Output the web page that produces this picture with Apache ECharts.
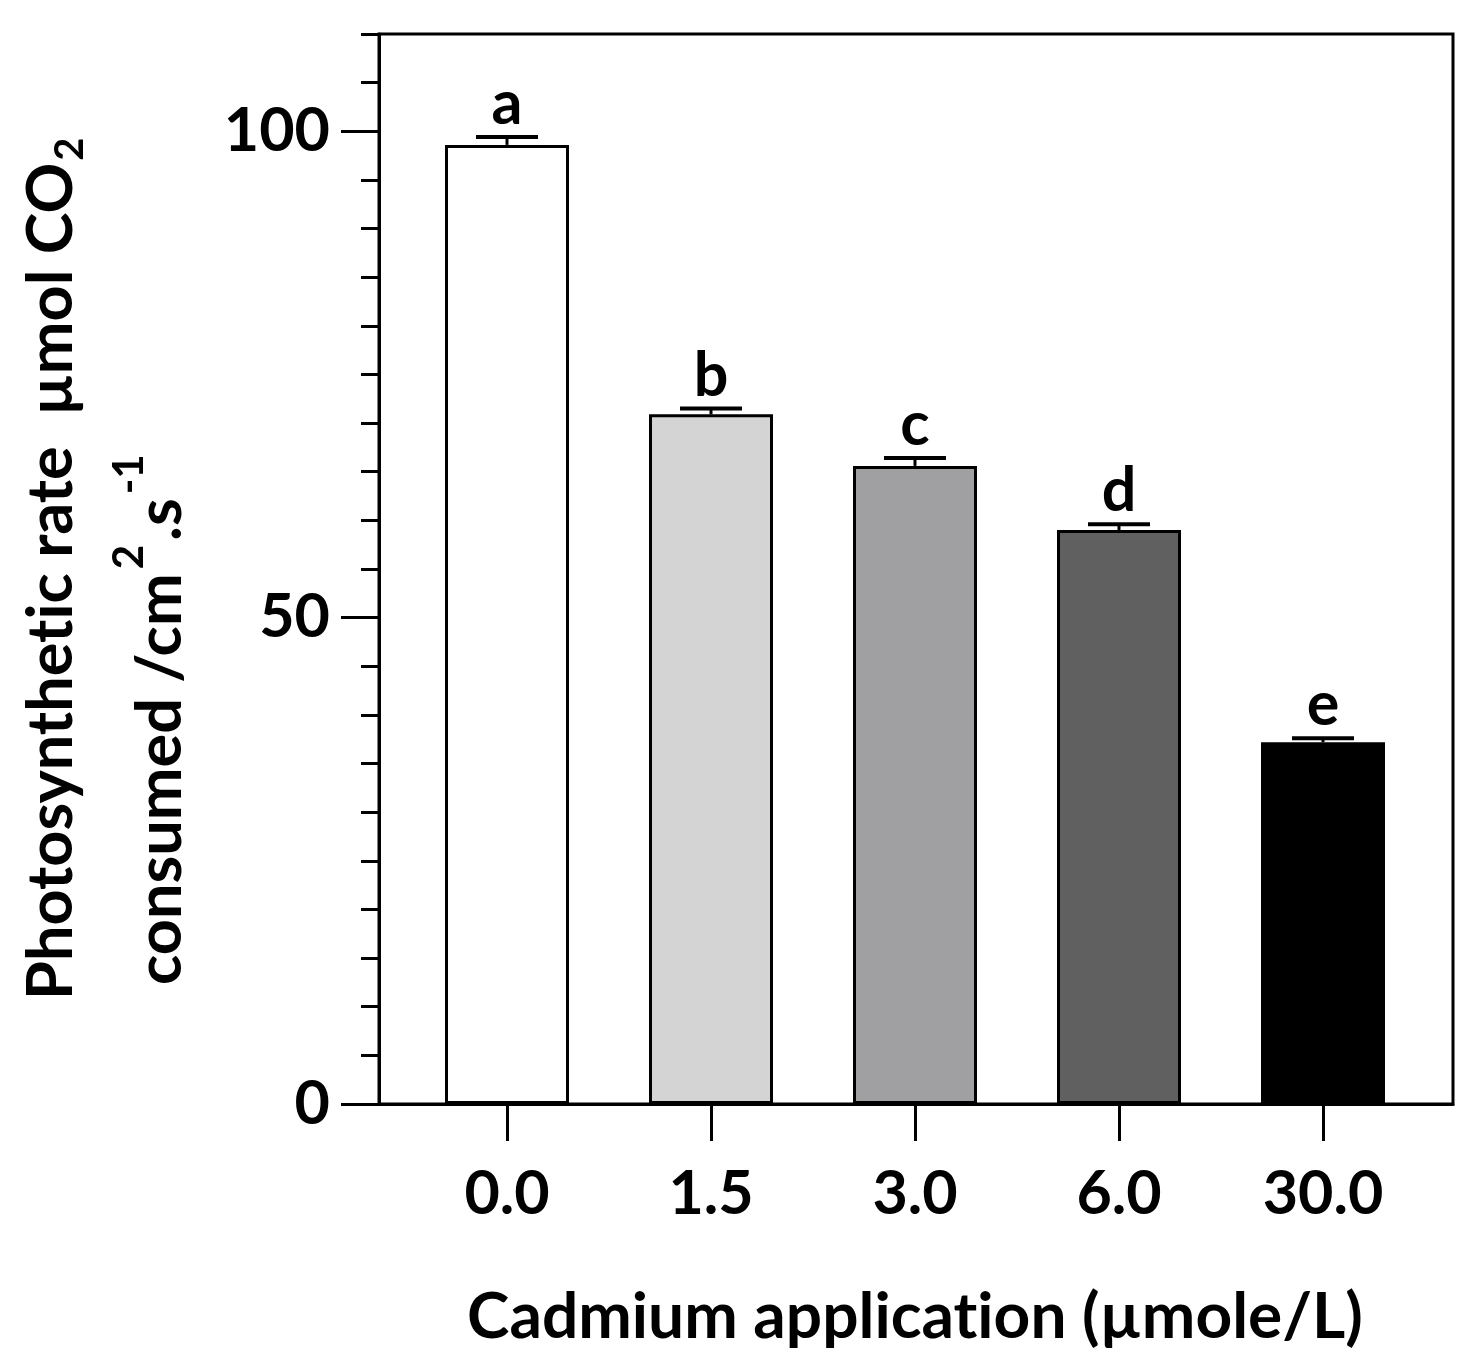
<!DOCTYPE html>
<html>
<head>
<meta charset="utf-8">
<script src="https://cdn.jsdelivr.net/npm/echarts@6/dist/echarts.min.js"></script>
<style>html,body{margin:0;padding:0;background:#fff;}#c{width:1476px;height:1372px;}</style>
</head>
<body>
<div id="c"></div>
<script>
const categories = ['0.0', '1.5', '3.0', '6.0', '30.0'];
const means = [98.6, 70.9, 65.6, 59.0, 37.2];
const errors = [0.8, 0.6, 0.8, 0.6, 0.4];
const letters = ['a', 'b', 'c', 'd', 'e'];
const yMajorTicks = [0, 50, 100];
// \u200C (zero-width non-joiner) only prevents the font's "ti" ligature
const xTitle = 'Cadmium applicat\u200Cion (µmole/L)';
const yTitle1 = 'Photosynthet\u200Cic rate  µmol CO';
const yTitle1Sub = '2';
const yTitle2a = 'consumed /cm';
const yTitle2b = '.s';

const barColors = ['#ffffff', '#d4d4d4', '#a0a0a2', '#606060', '#000000'];
const FONT = 'Lato';
const FS = 61;
const TFS = 63;

const chart = echarts.init(document.getElementById('c'), null, {renderer: 'canvas'});

const option = {
  backgroundColor: '#ffffff',
  animation: false,
  textStyle: {fontFamily: FONT, fontWeight: 'bold', color: '#000'},
  grid: [
    {left: 379, right: 23, top: 34, bottom: 268, show: true, borderColor: '#000', borderWidth: 3,
     backgroundColor: 'transparent', outerBoundsMode: 'none', containLabel: false},
    {left: 405, right: 51, top: 34, bottom: 268, outerBoundsMode: 'none', containLabel: false}
  ],
  xAxis: [
    {gridIndex: 0, type: 'value', min: 0, max: 1, axisLine: {show: true, lineStyle: {color: '#000', width: 3}},
     axisTick: {show: false}, axisLabel: {show: false}, splitLine: {show: false}},
    {gridIndex: 1, type: 'category', data: categories, boundaryGap: true, position: 'bottom',
     axisLine: {show: false},
     axisTick: {show: true, alignWithLabel: true, length: 37, lineStyle: {color: '#000', width: 3}},
     axisLabel: {margin: 60, fontFamily: FONT, fontWeight: 'bold', fontSize: FS, color: '#000'},
     name: xTitle, nameLocation: 'middle', nameGap: 181,
     nameTextStyle: {fontFamily: FONT, fontWeight: 'bold', fontSize: 64, color: '#000', verticalAlign: 'top'}}
  ],
  yAxis: [
    {gridIndex: 0, type: 'value', min: 0, max: 110, interval: 5, position: 'left',
     axisLine: {show: true, lineStyle: {color: '#000', width: 3}},
     axisTick: {show: true, length: 18, lineStyle: {color: '#000', width: 3}},
     axisLabel: {show: false}, splitLine: {show: false}},
    {gridIndex: 0, type: 'value', min: 0, max: 110, position: 'left', offset: 0,
     axisLine: {show: false},
     axisTick: {show: true, length: 38, customValues: yMajorTicks, lineStyle: {color: '#000', width: 3}},
     axisLabel: {show: true, customValues: yMajorTicks, margin: 49, fontFamily: FONT, fontWeight: 'bold', fontSize: FS, color: '#000'},
     splitLine: {show: false}},
    {gridIndex: 1, type: 'value', min: 0, max: 110, show: false}
  ],
  graphic: [
    {type: 'text', x: 52, y: 1000, rotation: Math.PI / 2,
     style: {
       text: '{m|' + yTitle1 + '}{sub|' + yTitle1Sub + '}',
       align: 'left', verticalAlign: 'middle',
       rich: {
         m: {fontFamily: FONT, fontWeight: 'bold', fontSize: TFS, color: '#000', lineHeight: 76, verticalAlign: 'middle'},
         sub: {fontFamily: FONT, fontWeight: 'bold', fontSize: 40, color: '#000', lineHeight: 76, verticalAlign: 'bottom', padding: [0, 0, 0, 2]}
       }
     }},
    {type: 'text', x: 150, y: 985, rotation: Math.PI / 2,
     style: {
       text: '{m|' + yTitle2a + '}{sup|2}{m|' + yTitle2b + '}{sup|-1}',
       align: 'left', verticalAlign: 'middle',
       rich: {
         m: {fontFamily: FONT, fontWeight: 'bold', fontSize: TFS, color: '#000', lineHeight: 84, verticalAlign: 'bottom'},
         sup: {fontFamily: FONT, fontWeight: 'bold', fontSize: 42, color: '#000', lineHeight: 84, verticalAlign: 'top', padding: [0, 4, 0, 4]}
       }
     }}
  ],
  series: [
    {type: 'bar', xAxisIndex: 1, yAxisIndex: 2, barWidth: 124,
     data: means.map((v, i) => ({value: v, itemStyle: {color: barColors[i]}})),
     itemStyle: {borderColor: '#000', borderWidth: 3}, z: 2},
    {type: 'custom', xAxisIndex: 1, yAxisIndex: 2, z: 3,
     data: means.map((v, i) => [i, v, errors[i]]),
     encode: {x: 0, y: 1},
     renderItem: function (params, api) {
       const i = api.value(0), m = api.value(1), e = api.value(2);
       const base = api.coord([i, m]);
       const top = api.coord([i, m + e]);
       return {
         type: 'group',
         children: [
           {type: 'line', shape: {x1: base[0], y1: base[1], x2: top[0], y2: top[1]}, style: {stroke: '#000', lineWidth: 3}},
           {type: 'line', shape: {x1: top[0] - 31, y1: top[1], x2: top[0] + 31, y2: top[1]}, style: {stroke: '#000', lineWidth: 4}},
           {type: 'text', x: top[0], y: top[1] - 2,
            style: {text: letters[params.dataIndex], align: 'center', verticalAlign: 'bottom',
                    fontFamily: FONT, fontWeight: 'bold', fontSize: FS, fill: '#000'}}
         ]
       };
     }}
  ]
};
chart.setOption(option);
</script>
</body>
</html>
